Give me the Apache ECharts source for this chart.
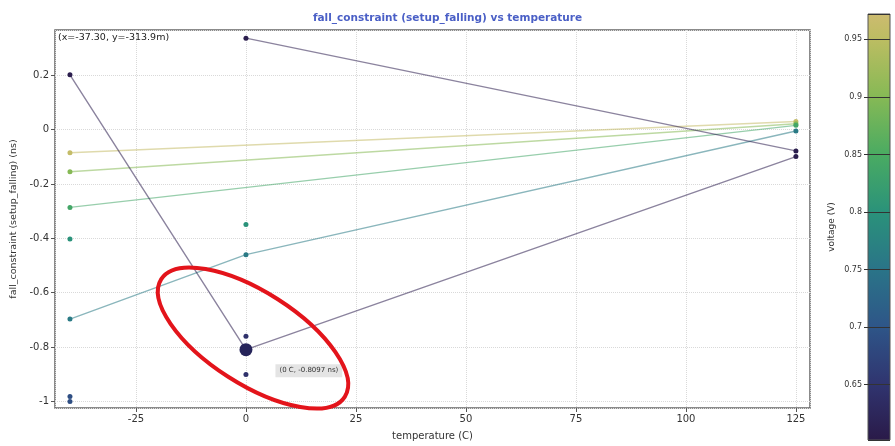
<!DOCTYPE html>
<html>
<head>
<meta charset="utf-8">
<script src="https://cdn.jsdelivr.net/npm/echarts@6/dist/echarts.min.js"></script>
<style>
  html, body { margin: 0; padding: 0; background: #fff; }
  #chart { width: 895px; height: 446px; }
</style>
</head>
<body>
<div id="chart"></div>
<script>
// temperatures (C) at which each trace is sampled
const temps = [-40, 0, 125];

// fall_constraint (ns) per trace, null = no sample at that temperature
const traceA = [-0.085, null, 0.030];
const traceB = [-0.155, null, 0.022];
const traceC = [-0.286, null, 0.016];
const traceD = [-0.402, null, null];
const traceE = [null, -0.349, null];
const traceF = [-0.697, -0.460, -0.005];
const traceG = [-0.982, null, null];
const traceH = [-1.001, null, null];
const traceI = [null, -0.760, null];
const traceJ = [0.202, -0.8097, -0.099];
const traceK = [null, -0.901, null];
const traceL = [null, 0.337, -0.078];

// supply voltage (V) of each trace
const traceVolts = [0.96, 0.90, 0.84, 0.80, 0.80, 0.76, 0.69, 0.69, 0.645, 0.61, 0.645, 0.61];

// colour bar range and the hovered point
const voltRange = [0.602, 0.972];
const hovered = [0, -0.8097];

const traces = [traceA, traceB, traceC, traceD, traceE, traceF, traceG, traceH, traceI, traceJ, traceK, traceL];

// washed-out viridis
const cmap = [
    [0, '#2a1a48'], [0.13, '#30346f'], [0.265, '#2e5588'], [0.4, '#2a7488'],
    [0.535, '#2a927a'], [0.67, '#4aab62'], [0.805, '#86b955'], [0.94, '#bcbd62'], [1, '#cdbb70']
];

function hex2rgb(h) {
    return [1, 3, 5].map(i => parseInt(h.substr(i, 2), 16));
}

function voltColor(v) {
    let f = (v - voltRange[0]) / (voltRange[1] - voltRange[0]);
    f = Math.max(0, Math.min(1, f));
    for (let i = 1; i < cmap.length; i++) {
        if (f <= cmap[i][0]) {
            const t = (f - cmap[i - 1][0]) / (cmap[i][0] - cmap[i - 1][0]);
            const a = hex2rgb(cmap[i - 1][1]), b = hex2rgb(cmap[i][1]);
            const c = a.map((x, k) => Math.round(x + (b[k] - x) * t));
            return 'rgb(' + c.join(',') + ')';
        }
    }
    return cmap[cmap.length - 1][1];
}

const chart = echarts.init(document.getElementById('chart'));
const font = 'DejaVu Sans';

const series = traces.map((vals, i) => {
    const c = voltColor(traceVolts[i]);
    const s = {
        type: 'line',
        xAxisIndex: 0,
        yAxisIndex: 0,
        data: temps.map((t, j) => vals[j] == null ? null : [t, vals[j]]).filter(d => d),
        symbol: 'circle',
        symbolSize: 5,
        showSymbol: true,
        itemStyle: { color: c },
        lineStyle: { color: c, width: 1.4, opacity: 0.55 },
        emphasis: { disabled: true },
        z: 3
    };
    if (vals === traceJ) {
        s.markPoint = {
            symbol: 'circle',
            symbolSize: 13,
            itemStyle: { color: '#26245a' },
            label: {
                show: true,
                formatter: '(0 C, -0.8097 ns)',
                position: [36, 21],
                fontFamily: font,
                fontSize: 7,
                color: '#333',
                backgroundColor: '#e4e4e4',
                padding: [3, 4]
            },
            data: [{ coord: hovered }]
        };
    }
    return s;
});

const option = {
    animation: false,
    title: {
        text: 'fall_constraint (setup_falling) vs temperature',
        left: 'center',
        top: 8,
        textStyle: { fontFamily: font, fontSize: 10.5, fontWeight: 'bold', color: '#4a5fc6' }
    },
    grid: [
        { left: 55, top: 30, right: 85, bottom: 36, show: true, borderColor: '#666', borderWidth: 1.5 },
        {
            left: 868, top: 14, width: 22, height: 426, show: true, borderColor: '#555', borderWidth: 1,
            backgroundColor: {
                type: 'linear', x: 0, y: 1, x2: 0, y2: 0,
                colorStops: cmap.map(s => ({ offset: s[0], color: s[1] }))
            }
        }
    ],
    xAxis: [
        {
            type: 'value',
            gridIndex: 0,
            min: -43.4,
            max: 128.2,
            minInterval: 25,
            maxInterval: 25,
            name: 'temperature (C)',
            nameLocation: 'middle',
            nameGap: 23,
            nameTextStyle: { fontFamily: font, fontSize: 10, color: '#333' },
            axisLine: { show: false, onZero: false },
            axisTick: { length: 4, lineStyle: { color: '#555' } },
            axisLabel: { showMinLabel: false, showMaxLabel: false, fontFamily: font, fontSize: 10, color: '#333', margin: 6 },
            splitLine: { lineStyle: { type: 'dotted', color: '#d9d9d9' } }
        },
        { type: 'value', gridIndex: 1, min: 0, max: 1, show: false }
    ],
    yAxis: [
        {
            type: 'value',
            gridIndex: 0,
            min: -1.0245,
            max: 0.367,
            minInterval: 0.2,
            maxInterval: 0.2,
            name: 'fall_constraint (setup_falling) (ns)',
            nameLocation: 'middle',
            nameGap: 30,
            nameTextStyle: { fontFamily: font, fontSize: 9.5, color: '#333' },
            axisLine: { show: false, onZero: false },
            axisTick: { length: 4, lineStyle: { color: '#555' } },
            axisLabel: { showMinLabel: false, showMaxLabel: false, fontFamily: font, fontSize: 10, color: '#333', margin: 6 },
            splitLine: { lineStyle: { type: 'dotted', color: '#d9d9d9' } }
        },
        {
            type: 'value',
            gridIndex: 1,
            min: voltRange[0],
            max: voltRange[1],
            minInterval: 0.05,
            maxInterval: 0.05,
            name: 'voltage (V)',
            nameLocation: 'middle',
            nameGap: 32,
            nameTextStyle: { fontFamily: font, fontSize: 9, color: '#333' },
            axisLine: { show: false, onZero: false },
            axisTick: { length: 4, lineStyle: { color: '#333' } },
            axisLabel: { showMinLabel: false, showMaxLabel: false, fontFamily: font, fontSize: 8, color: '#333', margin: 6 },
            splitLine: { lineStyle: { color: '#333', width: 1 } }
        }
    ],
    graphic: [
        {
            type: 'text',
            left: 58,
            top: 33,
            z: 100,
            style: { text: '(x=-37.30, y=-313.9m)', fontFamily: font, fontSize: 9.5, fill: '#222' }
        },
        {
            type: 'ellipse',
            x: 253,
            y: 338,
            rotation: -0.57,
            z: 100,
            shape: { cx: 0, cy: 0, rx: 109, ry: 46 },
            style: { fill: 'none', stroke: '#e3141b', lineWidth: 4 }
        }
    ],
    series: series
};

chart.setOption(option);
window.addEventListener('resize', () => chart.resize());
</script>
</body>
</html>
